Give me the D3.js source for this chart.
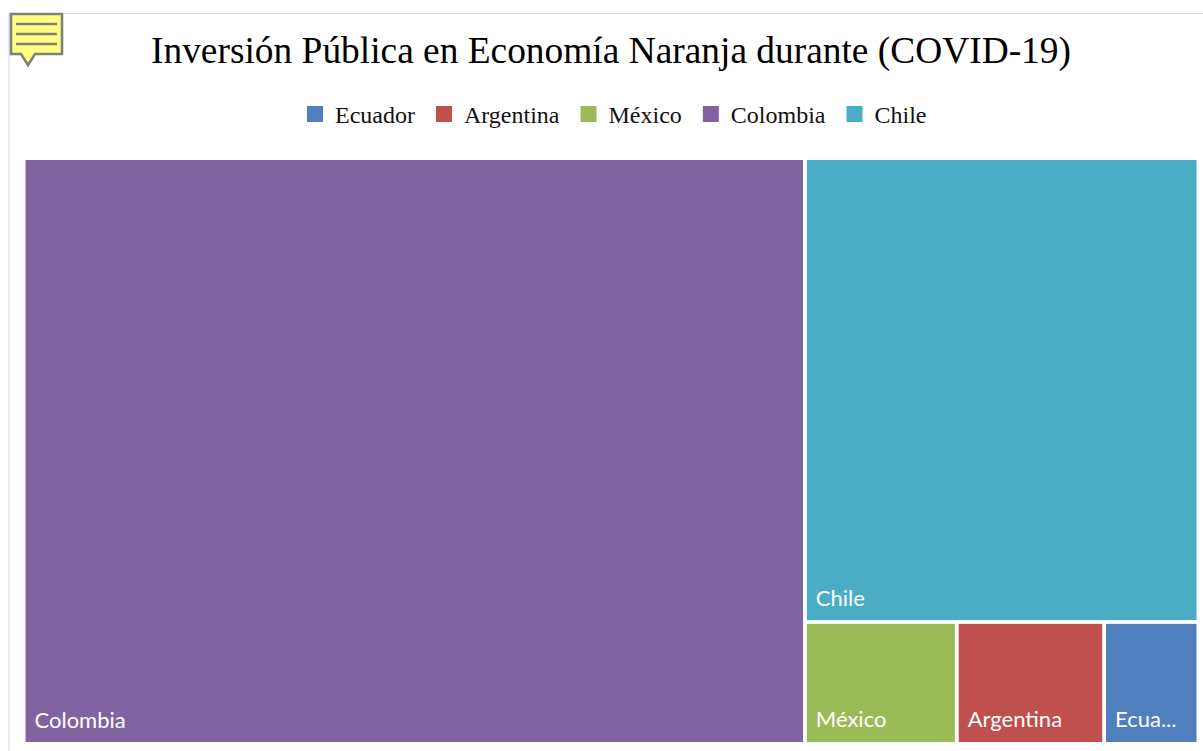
<!DOCTYPE html>
<html>
<head>
<meta charset="utf-8">
<title>Inversión Pública en Economía Naranja</title>
<script src="https://cdn.jsdelivr.net/npm/d3@7"></script>
<style>
    html, body { margin: 0; padding: 0; background: #fff; }
    svg { display: block; }
</style>
</head>
<body>
<div id="chart"></div>
<script>
// values, as share of the total
var legendOrder = ['Ecuador', 'Argentina', 'México', 'Colombia', 'Chile'];
var legendColors = ['#4f7fbc', '#c0504d', '#9bbb59', '#8064a2', '#4bacc6'];
var paises = ['Colombia', 'Chile', 'México', 'Argentina', 'Ecuador'];
var inversion = [66.51, 26.52, 2.69, 2.61, 1.67];
var titulo = 'Inversión Pública en Economía Naranja durante (COVID-19)';

var width = 1203,
    height = 751,
    margin = {top: 160, left: 25.5, bottom: 9, right: 6.5};

var color = d3.scaleOrdinal().domain(legendOrder).range(legendColors);

var svg = d3.select('#chart').append('svg')
    .attr('width', width)
    .attr('height', height);

renderFrame();
renderNote();
renderTitle();
renderLegend();
renderTreemap();

function renderFrame(){
    svg.append('path')
        .attr('d', d3.line()([[9, height], [9, 13.5], [width, 13.5]]))
        .attr('fill', 'none')
        .attr('stroke', '#dcdcdc')
        .attr('stroke-width', 1.2);
}

function renderNote(){
    var note = svg.append('g').attr('transform', 'translate(11,14)');
    note.append('path')
        .attr('d', 'M0,0H51V40H24L17,51L10,40H0Z')
        .attr('fill', '#ffff80')
        .attr('stroke', '#808080')
        .attr('stroke-width', 2.6);
    note.selectAll('line')
        .data([10, 20, 30])
        .enter()
        .append('line')
        .attr('x1', 5)
        .attr('x2', 46)
        .attr('y1', function (d) { return d; })
        .attr('y2', function (d) { return d; })
        .attr('stroke', '#808080')
        .attr('stroke-width', 2.4);
}

function renderTitle(){
    svg.append('text')
        .attr('x', 611)
        .attr('y', 63)
        .attr('text-anchor', 'middle')
        .attr('font-family', '"Liberation Serif", serif')
        .attr('font-size', 37.4)
        .attr('fill', '#000')
        .text(titulo);
}

function renderLegend(){
    var legend = svg.append('g').attr('transform', 'translate(0,114)');
    var x = 307;
    legendOrder.forEach(function (name) {
        legend.append('rect')
            .attr('x', x)
            .attr('y', -8)
            .attr('width', 16)
            .attr('height', 16)
            .attr('fill', color(name));
        var label = legend.append('text')
            .attr('x', x + 28)
            .attr('y', 9)
            .attr('font-family', '"Liberation Serif", serif')
            .attr('font-size', 24)
            .attr('fill', '#111')
            .text(name);
        x += 28 + label.node().getComputedTextLength() + 21;
    });
}

function renderTreemap(){
    var root = d3.hierarchy({
        children: paises.map(function (p, i) { return {name: p, value: inversion[i]}; })
    }).sum(function (d) { return d.value; });

    d3.treemap()
        .tile(d3.treemapSquarify)
        .size([width - margin.left - margin.right, height - margin.top - margin.bottom])
        .paddingInner(3.8)(root);

    var cells = svg.append('g')
        .attr('transform', 'translate(' + margin.left + ',' + margin.top + ')')
        .selectAll('g')
        .data(root.leaves())
        .enter()
        .append('g')
        .attr('transform', function (d) { return 'translate(' + d.x0 + ',' + d.y0 + ')'; });

    cells.append('rect')
        .attr('width', function (d) { return d.x1 - d.x0; })
        .attr('height', function (d) { return d.y1 - d.y0; })
        .attr('fill', function (d) { return color(d.data.name); });

    cells.append('text')
        .attr('x', 9)
        .attr('y', function (d) { return d.y1 - d.y0 - 14.5; })
        .attr('font-family', 'Lato, "Open Sans", sans-serif')
        .attr('font-size', 22)
        .attr('fill', '#fff')
        .text(function (d) { return d.data.name; })
        .each(function (d) {
            // shorten the label when it does not fit its cell
            var room = d.x1 - d.x0 - 19;
            var el = d3.select(this);
            var s = d.data.name;
            while (this.getComputedTextLength() > room && s.length > 1) {
                s = s.slice(0, -1);
                el.text(s + '...');
            }
        });
}
</script>
</body>
</html>
